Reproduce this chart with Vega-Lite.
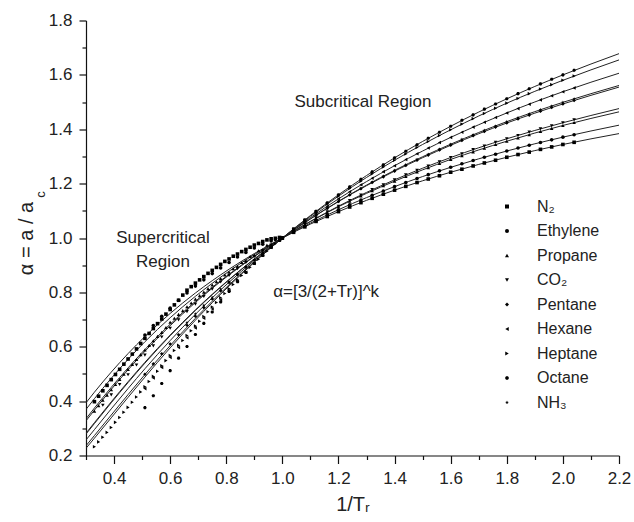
{
"$schema": "https://vega.github.io/schema/vega-lite/v6.json",
"width": 533, "height": 435,
"autosize": {"type": "none"},
"padding": {"left": 86, "top": 20.5, "right": 15, "bottom": 66.5},
"config": {"view": {"stroke": null}, "font": "Liberation Sans"},
"datasets": {
"fits": [
{"c":"N2","x":0.3,"y":0.3937},{"c":"N2","x":0.33,"y":0.4329},{"c":"N2","x":0.39,"y":0.5067},{"c":"N2","x":0.45,"y":0.5749},{"c":"N2","x":0.51,"y":0.6376},{"c":"N2","x":0.6,"y":0.7225},{"c":"N2","x":0.69,"y":0.7977},{"c":"N2","x":0.81,"y":0.8852},{"c":"N2","x":0.9,"y":0.9428},{"c":"N2","x":1.0,"y":1.0},{"c":"N2","x":1.2,"y":1.097},{"c":"N2","x":1.4,"y":1.176},{"c":"N2","x":1.6,"y":1.242},{"c":"N2","x":1.8,"y":1.297},{"c":"N2","x":2.0,"y":1.344},{"c":"N2","x":2.2,"y":1.384},
{"c":"Eth","x":0.3,"y":0.3696},{"c":"Eth","x":0.33,"y":0.409},{"c":"Eth","x":0.39,"y":0.4839},{"c":"Eth","x":0.45,"y":0.5537},{"c":"Eth","x":0.51,"y":0.6184},{"c":"Eth","x":0.6,"y":0.7067},{"c":"Eth","x":0.69,"y":0.7855},{"c":"Eth","x":0.81,"y":0.8779},{"c":"Eth","x":0.9,"y":0.939},{"c":"Eth","x":1.0,"y":1.0},{"c":"Eth","x":1.2,"y":1.104},{"c":"Eth","x":1.4,"y":1.189},{"c":"Eth","x":1.6,"y":1.26},{"c":"Eth","x":1.8,"y":1.32},{"c":"Eth","x":2.0,"y":1.371},{"c":"Eth","x":2.2,"y":1.415},
{"c":"Pro","x":0.3,"y":0.3351},{"c":"Pro","x":0.33,"y":0.3745},{"c":"Pro","x":0.39,"y":0.4506},{"c":"Pro","x":0.45,"y":0.5224},{"c":"Pro","x":0.51,"y":0.5899},{"c":"Pro","x":0.6,"y":0.683},{"c":"Pro","x":0.69,"y":0.7671},{"c":"Pro","x":0.81,"y":0.8667},{"c":"Pro","x":0.9,"y":0.9332},{"c":"Pro","x":1.0,"y":1.0},{"c":"Pro","x":1.2,"y":1.115},{"c":"Pro","x":1.4,"y":1.209},{"c":"Pro","x":1.6,"y":1.289},{"c":"Pro","x":1.8,"y":1.356},{"c":"Pro","x":2.0,"y":1.414},{"c":"Pro","x":2.2,"y":1.464},
{"c":"CO2","x":0.3,"y":0.3275},{"c":"CO2","x":0.33,"y":0.3668},{"c":"CO2","x":0.39,"y":0.4431},{"c":"CO2","x":0.45,"y":0.5153},{"c":"CO2","x":0.51,"y":0.5834},{"c":"CO2","x":0.6,"y":0.6775},{"c":"CO2","x":0.69,"y":0.7628},{"c":"CO2","x":0.81,"y":0.8641},{"c":"CO2","x":0.9,"y":0.9318},{"c":"CO2","x":1.0,"y":1.0},{"c":"CO2","x":1.2,"y":1.117},{"c":"CO2","x":1.4,"y":1.214},{"c":"CO2","x":1.6,"y":1.296},{"c":"CO2","x":1.8,"y":1.365},{"c":"CO2","x":2.0,"y":1.424},{"c":"CO2","x":2.2,"y":1.476},
{"c":"Pen","x":0.3,"y":0.282},{"c":"Pen","x":0.33,"y":0.3207},{"c":"Pen","x":0.39,"y":0.3973},{"c":"Pen","x":0.45,"y":0.4715},{"c":"Pen","x":0.51,"y":0.5427},{"c":"Pen","x":0.6,"y":0.6431},{"c":"Pen","x":0.69,"y":0.7356},{"c":"Pen","x":0.81,"y":0.8474},{"c":"Pen","x":0.9,"y":0.9231},{"c":"Pen","x":1.0,"y":1.0},{"c":"Pen","x":1.2,"y":1.134},{"c":"Pen","x":1.4,"y":1.246},{"c":"Pen","x":1.6,"y":1.341},{"c":"Pen","x":1.8,"y":1.423},{"c":"Pen","x":2.0,"y":1.493},{"c":"Pen","x":2.2,"y":1.555},
{"c":"NH3","x":0.3,"y":0.2788},{"c":"NH3","x":0.33,"y":0.3174},{"c":"NH3","x":0.39,"y":0.394},{"c":"NH3","x":0.45,"y":0.4683},{"c":"NH3","x":0.51,"y":0.5397},{"c":"NH3","x":0.6,"y":0.6405},{"c":"NH3","x":0.69,"y":0.7335},{"c":"NH3","x":0.81,"y":0.8461},{"c":"NH3","x":0.9,"y":0.9224},{"c":"NH3","x":1.0,"y":1.0},{"c":"NH3","x":1.2,"y":1.135},{"c":"NH3","x":1.4,"y":1.249},{"c":"NH3","x":1.6,"y":1.345},{"c":"NH3","x":1.8,"y":1.428},{"c":"NH3","x":2.0,"y":1.499},{"c":"NH3","x":2.2,"y":1.561},
{"c":"Hex","x":0.3,"y":0.2572},{"c":"Hex","x":0.33,"y":0.2952},{"c":"Hex","x":0.39,"y":0.3715},{"c":"Hex","x":0.45,"y":0.4464},{"c":"Hex","x":0.51,"y":0.5191},{"c":"Hex","x":0.6,"y":0.6228},{"c":"Hex","x":0.69,"y":0.7194},{"c":"Hex","x":0.81,"y":0.8373},{"c":"Hex","x":0.9,"y":0.9177},{"c":"Hex","x":1.0,"y":1.0},{"c":"Hex","x":1.2,"y":1.144},{"c":"Hex","x":1.4,"y":1.266},{"c":"Hex","x":1.6,"y":1.37},{"c":"Hex","x":1.8,"y":1.46},{"c":"Hex","x":2.0,"y":1.538},{"c":"Hex","x":2.2,"y":1.606},
{"c":"Hep","x":0.3,"y":0.2359},{"c":"Hep","x":0.33,"y":0.2733},{"c":"Hep","x":0.39,"y":0.3488},{"c":"Hep","x":0.45,"y":0.4241},{"c":"Hep","x":0.51,"y":0.4979},{"c":"Hep","x":0.6,"y":0.6043},{"c":"Hep","x":0.69,"y":0.7045},{"c":"Hep","x":0.81,"y":0.8278},{"c":"Hep","x":0.9,"y":0.9128},{"c":"Hep","x":1.0,"y":1.0},{"c":"Hep","x":1.2,"y":1.154},{"c":"Hep","x":1.4,"y":1.286},{"c":"Hep","x":1.6,"y":1.398},{"c":"Hep","x":1.8,"y":1.496},{"c":"Hep","x":2.0,"y":1.58},{"c":"Hep","x":2.2,"y":1.655},
{"c":"Oct","x":0.3,"y":0.2266},{"c":"Oct","x":0.33,"y":0.2636},{"c":"Oct","x":0.39,"y":0.3387},{"c":"Oct","x":0.45,"y":0.4141},{"c":"Oct","x":0.51,"y":0.4883},{"c":"Oct","x":0.6,"y":0.5959},{"c":"Oct","x":0.69,"y":0.6977},{"c":"Oct","x":0.81,"y":0.8235},{"c":"Oct","x":0.9,"y":0.9105},{"c":"Oct","x":1.0,"y":1.0},{"c":"Oct","x":1.2,"y":1.159},{"c":"Oct","x":1.4,"y":1.295},{"c":"Oct","x":1.6,"y":1.411},{"c":"Oct","x":1.8,"y":1.512},{"c":"Oct","x":2.0,"y":1.6},{"c":"Oct","x":2.2,"y":1.678}
],
"pts": [
{"s":"N₂","x":0.33,"y":0.398},{"s":"N₂","x":0.36,"y":0.438},{"s":"N₂","x":0.39,"y":0.479},{"s":"N₂","x":0.42,"y":0.517},{"s":"N₂","x":0.45,"y":0.555},{"s":"N₂","x":0.48,"y":0.592},{"s":"N₂","x":0.51,"y":0.631},{"s":"N₂","x":0.54,"y":0.667},{"s":"N₂","x":0.57,"y":0.702},{"s":"N₂","x":0.6,"y":0.737},{"s":"N₂","x":0.63,"y":0.771},{"s":"N₂","x":0.66,"y":0.808},{"s":"N₂","x":0.69,"y":0.834},{"s":"N₂","x":0.72,"y":0.858},{"s":"N₂","x":0.75,"y":0.881},{"s":"N₂","x":0.78,"y":0.903},{"s":"N₂","x":0.81,"y":0.923},{"s":"N₂","x":0.84,"y":0.941},{"s":"N₂","x":0.87,"y":0.958},{"s":"N₂","x":0.9,"y":0.974},{"s":"N₂","x":0.93,"y":0.987},{"s":"N₂","x":0.96,"y":0.997},{"s":"N₂","x":0.99,"y":1.002},{"s":"N₂","x":1.0,"y":1.0},
{"s":"N₂","x":0.345,"y":0.418},{"s":"N₂","x":0.375,"y":0.458},{"s":"N₂","x":0.405,"y":0.498},{"s":"N₂","x":0.435,"y":0.536},{"s":"N₂","x":0.465,"y":0.573},{"s":"N₂","x":0.495,"y":0.612},{"s":"N₂","x":0.525,"y":0.649},{"s":"N₂","x":0.555,"y":0.685},{"s":"N₂","x":0.585,"y":0.72},{"s":"N₂","x":0.615,"y":0.754},{"s":"N₂","x":0.645,"y":0.79},{"s":"N₂","x":0.675,"y":0.821},{"s":"N₂","x":0.705,"y":0.846},{"s":"N₂","x":0.735,"y":0.87},{"s":"N₂","x":0.765,"y":0.892},{"s":"N₂","x":0.795,"y":0.914},{"s":"N₂","x":0.825,"y":0.933},{"s":"N₂","x":0.855,"y":0.95},{"s":"N₂","x":0.885,"y":0.966},{"s":"N₂","x":0.915,"y":0.98},{"s":"N₂","x":0.945,"y":0.993},{"s":"N₂","x":0.975,"y":0.999},
{"s":"N₂","x":1.04,"y":1.021},{"s":"N₂","x":1.08,"y":1.041},{"s":"N₂","x":1.12,"y":1.061},{"s":"N₂","x":1.16,"y":1.079},{"s":"N₂","x":1.2,"y":1.097},{"s":"N₂","x":1.24,"y":1.114},{"s":"N₂","x":1.28,"y":1.13},{"s":"N₂","x":1.32,"y":1.146},{"s":"N₂","x":1.36,"y":1.161},{"s":"N₂","x":1.4,"y":1.176},{"s":"N₂","x":1.44,"y":1.19},{"s":"N₂","x":1.48,"y":1.204},{"s":"N₂","x":1.52,"y":1.217},{"s":"N₂","x":1.56,"y":1.229},{"s":"N₂","x":1.6,"y":1.242},{"s":"N₂","x":1.64,"y":1.253},{"s":"N₂","x":1.68,"y":1.265},{"s":"N₂","x":1.72,"y":1.276},{"s":"N₂","x":1.76,"y":1.286},{"s":"N₂","x":1.8,"y":1.297},{"s":"N₂","x":1.84,"y":1.307},{"s":"N₂","x":1.88,"y":1.316},{"s":"N₂","x":1.92,"y":1.326},{"s":"N₂","x":1.96,"y":1.335},{"s":"N₂","x":2.0,"y":1.344},{"s":"N₂","x":2.04,"y":1.352},
{"s":"Ethylene","x":0.51,"y":0.643},{"s":"Ethylene","x":0.54,"y":0.678},{"s":"Ethylene","x":0.57,"y":0.712},{"s":"Ethylene","x":0.6,"y":0.742},{"s":"Ethylene","x":0.63,"y":0.771},{"s":"Ethylene","x":0.66,"y":0.798},{"s":"Ethylene","x":0.69,"y":0.823},{"s":"Ethylene","x":0.72,"y":0.846},{"s":"Ethylene","x":0.75,"y":0.869},{"s":"Ethylene","x":0.78,"y":0.89},{"s":"Ethylene","x":0.81,"y":0.91},{"s":"Ethylene","x":0.84,"y":0.93},{"s":"Ethylene","x":0.87,"y":0.947},{"s":"Ethylene","x":0.9,"y":0.963},{"s":"Ethylene","x":0.93,"y":0.977},{"s":"Ethylene","x":0.96,"y":0.989},{"s":"Ethylene","x":0.99,"y":0.998},{"s":"Ethylene","x":1.0,"y":1.0},
{"s":"Ethylene","x":1.04,"y":1.023},{"s":"Ethylene","x":1.08,"y":1.044},{"s":"Ethylene","x":1.12,"y":1.065},{"s":"Ethylene","x":1.16,"y":1.085},{"s":"Ethylene","x":1.2,"y":1.104},{"s":"Ethylene","x":1.24,"y":1.122},{"s":"Ethylene","x":1.28,"y":1.14},{"s":"Ethylene","x":1.32,"y":1.157},{"s":"Ethylene","x":1.36,"y":1.173},{"s":"Ethylene","x":1.4,"y":1.189},{"s":"Ethylene","x":1.44,"y":1.204},{"s":"Ethylene","x":1.48,"y":1.219},{"s":"Ethylene","x":1.52,"y":1.233},{"s":"Ethylene","x":1.56,"y":1.247},{"s":"Ethylene","x":1.6,"y":1.26},{"s":"Ethylene","x":1.64,"y":1.273},{"s":"Ethylene","x":1.68,"y":1.285},{"s":"Ethylene","x":1.72,"y":1.297},{"s":"Ethylene","x":1.76,"y":1.308},{"s":"Ethylene","x":1.8,"y":1.32},{"s":"Ethylene","x":1.84,"y":1.331},{"s":"Ethylene","x":1.88,"y":1.341},{"s":"Ethylene","x":1.92,"y":1.351},{"s":"Ethylene","x":1.96,"y":1.361},{"s":"Ethylene","x":2.0,"y":1.371},{"s":"Ethylene","x":2.04,"y":1.38},
{"s":"Propane","x":0.33,"y":0.363},{"s":"Propane","x":0.36,"y":0.403},{"s":"Propane","x":0.39,"y":0.442},{"s":"Propane","x":0.42,"y":0.48},{"s":"Propane","x":0.45,"y":0.517},{"s":"Propane","x":0.48,"y":0.553},{"s":"Propane","x":0.51,"y":0.588},{"s":"Propane","x":0.54,"y":0.622},{"s":"Propane","x":0.57,"y":0.653},{"s":"Propane","x":0.6,"y":0.69},{"s":"Propane","x":0.63,"y":0.719},{"s":"Propane","x":0.66,"y":0.747},{"s":"Propane","x":0.69,"y":0.775},{"s":"Propane","x":0.72,"y":0.801},{"s":"Propane","x":0.75,"y":0.827},{"s":"Propane","x":0.78,"y":0.851},{"s":"Propane","x":0.81,"y":0.874},{"s":"Propane","x":0.84,"y":0.896},{"s":"Propane","x":0.87,"y":0.917},{"s":"Propane","x":0.9,"y":0.937},{"s":"Propane","x":0.93,"y":0.957},{"s":"Propane","x":0.96,"y":0.976},{"s":"Propane","x":0.99,"y":0.995},{"s":"Propane","x":1.0,"y":1.0},
{"s":"Propane","x":0.345,"y":0.383},{"s":"Propane","x":0.375,"y":0.422},{"s":"Propane","x":0.405,"y":0.461},{"s":"Propane","x":0.435,"y":0.499},{"s":"Propane","x":0.465,"y":0.535},{"s":"Propane","x":0.495,"y":0.571},{"s":"Propane","x":0.525,"y":0.605},{"s":"Propane","x":0.555,"y":0.638},{"s":"Propane","x":0.585,"y":0.671},{"s":"Propane","x":0.615,"y":0.705},{"s":"Propane","x":0.645,"y":0.733},{"s":"Propane","x":0.675,"y":0.761},{"s":"Propane","x":0.705,"y":0.788},{"s":"Propane","x":0.735,"y":0.814},{"s":"Propane","x":0.765,"y":0.839},{"s":"Propane","x":0.795,"y":0.864},{"s":"Propane","x":0.825,"y":0.887},{"s":"Propane","x":0.855,"y":0.91},{"s":"Propane","x":0.885,"y":0.932},{"s":"Propane","x":0.915,"y":0.953},{"s":"Propane","x":0.945,"y":0.974},{"s":"Propane","x":0.975,"y":0.994},
{"s":"Propane","x":1.04,"y":1.025},{"s":"Propane","x":1.08,"y":1.049},{"s":"Propane","x":1.12,"y":1.072},{"s":"Propane","x":1.16,"y":1.094},{"s":"Propane","x":1.2,"y":1.115},{"s":"Propane","x":1.24,"y":1.135},{"s":"Propane","x":1.28,"y":1.155},{"s":"Propane","x":1.32,"y":1.174},{"s":"Propane","x":1.36,"y":1.192},{"s":"Propane","x":1.4,"y":1.209},{"s":"Propane","x":1.44,"y":1.226},{"s":"Propane","x":1.48,"y":1.243},{"s":"Propane","x":1.52,"y":1.259},{"s":"Propane","x":1.56,"y":1.274},{"s":"Propane","x":1.6,"y":1.289},{"s":"Propane","x":1.64,"y":1.303},{"s":"Propane","x":1.68,"y":1.317},{"s":"Propane","x":1.72,"y":1.33},{"s":"Propane","x":1.76,"y":1.344},{"s":"Propane","x":1.8,"y":1.356},{"s":"Propane","x":1.84,"y":1.368},{"s":"Propane","x":1.88,"y":1.38},{"s":"Propane","x":1.92,"y":1.392},{"s":"Propane","x":1.96,"y":1.403},{"s":"Propane","x":2.0,"y":1.414},{"s":"Propane","x":2.04,"y":1.425},
{"s":"CO₂","x":0.36,"y":0.385},{"s":"CO₂","x":0.39,"y":0.423},{"s":"CO₂","x":0.42,"y":0.461},{"s":"CO₂","x":0.45,"y":0.497},{"s":"CO₂","x":0.48,"y":0.533},{"s":"CO₂","x":0.51,"y":0.569},{"s":"CO₂","x":0.54,"y":0.603},{"s":"CO₂","x":0.57,"y":0.636},{"s":"CO₂","x":0.6,"y":0.668},{"s":"CO₂","x":0.63,"y":0.699},{"s":"CO₂","x":0.66,"y":0.729},{"s":"CO₂","x":0.69,"y":0.757},{"s":"CO₂","x":0.72,"y":0.785},{"s":"CO₂","x":0.75,"y":0.812},{"s":"CO₂","x":0.78,"y":0.838},{"s":"CO₂","x":0.81,"y":0.862},{"s":"CO₂","x":0.84,"y":0.887},{"s":"CO₂","x":0.87,"y":0.91},{"s":"CO₂","x":0.9,"y":0.932},{"s":"CO₂","x":0.93,"y":0.953},{"s":"CO₂","x":0.96,"y":0.974},{"s":"CO₂","x":0.99,"y":0.994},{"s":"CO₂","x":1.0,"y":1.0},
{"s":"CO₂","x":1.04,"y":1.025},{"s":"CO₂","x":1.08,"y":1.05},{"s":"CO₂","x":1.12,"y":1.073},{"s":"CO₂","x":1.16,"y":1.096},{"s":"CO₂","x":1.2,"y":1.117},{"s":"CO₂","x":1.24,"y":1.138},{"s":"CO₂","x":1.28,"y":1.158},{"s":"CO₂","x":1.32,"y":1.178},{"s":"CO₂","x":1.36,"y":1.196},{"s":"CO₂","x":1.4,"y":1.214},{"s":"CO₂","x":1.44,"y":1.232},{"s":"CO₂","x":1.48,"y":1.249},{"s":"CO₂","x":1.52,"y":1.265},{"s":"CO₂","x":1.56,"y":1.28},{"s":"CO₂","x":1.6,"y":1.296},{"s":"CO₂","x":1.64,"y":1.31},{"s":"CO₂","x":1.68,"y":1.325},{"s":"CO₂","x":1.72,"y":1.338},{"s":"CO₂","x":1.76,"y":1.352},{"s":"CO₂","x":1.8,"y":1.365},{"s":"CO₂","x":1.84,"y":1.377},{"s":"CO₂","x":1.88,"y":1.39},{"s":"CO₂","x":1.92,"y":1.402},{"s":"CO₂","x":1.96,"y":1.413},{"s":"CO₂","x":2.0,"y":1.424},{"s":"CO₂","x":2.04,"y":1.435},
{"s":"Pentane","x":0.51,"y":0.499},{"s":"Pentane","x":0.54,"y":0.537},{"s":"Pentane","x":0.57,"y":0.574},{"s":"Pentane","x":0.6,"y":0.61},{"s":"Pentane","x":0.63,"y":0.644},{"s":"Pentane","x":0.66,"y":0.679},{"s":"Pentane","x":0.69,"y":0.712},{"s":"Pentane","x":0.72,"y":0.744},{"s":"Pentane","x":0.75,"y":0.776},{"s":"Pentane","x":0.78,"y":0.806},{"s":"Pentane","x":0.81,"y":0.836},{"s":"Pentane","x":0.84,"y":0.865},{"s":"Pentane","x":0.87,"y":0.892},{"s":"Pentane","x":0.9,"y":0.919},{"s":"Pentane","x":0.93,"y":0.945},{"s":"Pentane","x":0.96,"y":0.97},{"s":"Pentane","x":0.99,"y":0.993},{"s":"Pentane","x":1.0,"y":1.0},
{"s":"Pentane","x":1.04,"y":1.029},{"s":"Pentane","x":1.08,"y":1.057},{"s":"Pentane","x":1.12,"y":1.083},{"s":"Pentane","x":1.16,"y":1.109},{"s":"Pentane","x":1.2,"y":1.134},{"s":"Pentane","x":1.24,"y":1.158},{"s":"Pentane","x":1.28,"y":1.181},{"s":"Pentane","x":1.32,"y":1.204},{"s":"Pentane","x":1.36,"y":1.225},{"s":"Pentane","x":1.4,"y":1.246},{"s":"Pentane","x":1.44,"y":1.267},{"s":"Pentane","x":1.48,"y":1.286},{"s":"Pentane","x":1.52,"y":1.305},{"s":"Pentane","x":1.56,"y":1.324},{"s":"Pentane","x":1.6,"y":1.341},{"s":"Pentane","x":1.64,"y":1.359},{"s":"Pentane","x":1.68,"y":1.376},{"s":"Pentane","x":1.72,"y":1.392},{"s":"Pentane","x":1.76,"y":1.408},{"s":"Pentane","x":1.8,"y":1.423},{"s":"Pentane","x":1.84,"y":1.438},{"s":"Pentane","x":1.88,"y":1.452},{"s":"Pentane","x":1.92,"y":1.466},{"s":"Pentane","x":1.96,"y":1.48},{"s":"Pentane","x":2.0,"y":1.493},{"s":"Pentane","x":2.04,"y":1.506},
{"s":"Hexane","x":0.51,"y":0.446},{"s":"Hexane","x":0.54,"y":0.485},{"s":"Hexane","x":0.57,"y":0.524},{"s":"Hexane","x":0.6,"y":0.561},{"s":"Hexane","x":0.63,"y":0.597},{"s":"Hexane","x":0.66,"y":0.633},{"s":"Hexane","x":0.69,"y":0.669},{"s":"Hexane","x":0.72,"y":0.705},{"s":"Hexane","x":0.75,"y":0.739},{"s":"Hexane","x":0.78,"y":0.773},{"s":"Hexane","x":0.81,"y":0.807},{"s":"Hexane","x":0.84,"y":0.84},{"s":"Hexane","x":0.87,"y":0.874},{"s":"Hexane","x":0.9,"y":0.906},{"s":"Hexane","x":0.93,"y":0.937},{"s":"Hexane","x":0.96,"y":0.965},{"s":"Hexane","x":0.99,"y":0.992},{"s":"Hexane","x":1.0,"y":1.0},
{"s":"Hexane","x":1.04,"y":1.031},{"s":"Hexane","x":1.08,"y":1.061},{"s":"Hexane","x":1.12,"y":1.09},{"s":"Hexane","x":1.16,"y":1.117},{"s":"Hexane","x":1.2,"y":1.144},{"s":"Hexane","x":1.24,"y":1.17},{"s":"Hexane","x":1.28,"y":1.196},{"s":"Hexane","x":1.32,"y":1.22},{"s":"Hexane","x":1.36,"y":1.244},{"s":"Hexane","x":1.4,"y":1.266},{"s":"Hexane","x":1.44,"y":1.289},{"s":"Hexane","x":1.48,"y":1.31},{"s":"Hexane","x":1.52,"y":1.331},{"s":"Hexane","x":1.56,"y":1.351},{"s":"Hexane","x":1.6,"y":1.37},{"s":"Hexane","x":1.64,"y":1.389},{"s":"Hexane","x":1.68,"y":1.408},{"s":"Hexane","x":1.72,"y":1.426},{"s":"Hexane","x":1.76,"y":1.443},{"s":"Hexane","x":1.8,"y":1.46},{"s":"Hexane","x":1.84,"y":1.476},{"s":"Hexane","x":1.88,"y":1.492},{"s":"Hexane","x":1.92,"y":1.508},{"s":"Hexane","x":1.96,"y":1.523},{"s":"Hexane","x":2.0,"y":1.538},{"s":"Hexane","x":2.04,"y":1.552},
{"s":"Heptane","x":0.33,"y":0.232},{"s":"Heptane","x":0.36,"y":0.267},{"s":"Heptane","x":0.39,"y":0.303},{"s":"Heptane","x":0.42,"y":0.34},{"s":"Heptane","x":0.45,"y":0.377},{"s":"Heptane","x":0.48,"y":0.415},{"s":"Heptane","x":0.51,"y":0.453},{"s":"Heptane","x":0.54,"y":0.491},{"s":"Heptane","x":0.57,"y":0.53},{"s":"Heptane","x":0.6,"y":0.568},{"s":"Heptane","x":0.63,"y":0.605},{"s":"Heptane","x":0.66,"y":0.641},{"s":"Heptane","x":0.69,"y":0.676},{"s":"Heptane","x":0.72,"y":0.711},{"s":"Heptane","x":0.75,"y":0.746},{"s":"Heptane","x":0.78,"y":0.78},{"s":"Heptane","x":0.81,"y":0.813},{"s":"Heptane","x":0.84,"y":0.846},{"s":"Heptane","x":0.87,"y":0.877},{"s":"Heptane","x":0.9,"y":0.907},{"s":"Heptane","x":0.93,"y":0.937},{"s":"Heptane","x":0.96,"y":0.966},{"s":"Heptane","x":0.99,"y":0.992},{"s":"Heptane","x":1.0,"y":1.0},
{"s":"Heptane","x":0.345,"y":0.25},{"s":"Heptane","x":0.375,"y":0.285},{"s":"Heptane","x":0.405,"y":0.322},{"s":"Heptane","x":0.435,"y":0.359},{"s":"Heptane","x":0.465,"y":0.396},{"s":"Heptane","x":0.495,"y":0.434},{"s":"Heptane","x":0.525,"y":0.472},{"s":"Heptane","x":0.555,"y":0.51},{"s":"Heptane","x":0.585,"y":0.549},{"s":"Heptane","x":0.615,"y":0.586},{"s":"Heptane","x":0.645,"y":0.623},{"s":"Heptane","x":0.675,"y":0.659},{"s":"Heptane","x":0.705,"y":0.694},{"s":"Heptane","x":0.735,"y":0.729},{"s":"Heptane","x":0.765,"y":0.763},{"s":"Heptane","x":0.795,"y":0.796},{"s":"Heptane","x":0.825,"y":0.829},{"s":"Heptane","x":0.855,"y":0.862},{"s":"Heptane","x":0.885,"y":0.892},{"s":"Heptane","x":0.915,"y":0.922},{"s":"Heptane","x":0.945,"y":0.951},{"s":"Heptane","x":0.975,"y":0.979},
{"s":"Heptane","x":1.04,"y":1.033},{"s":"Heptane","x":1.08,"y":1.065},{"s":"Heptane","x":1.12,"y":1.096},{"s":"Heptane","x":1.16,"y":1.125},{"s":"Heptane","x":1.2,"y":1.154},{"s":"Heptane","x":1.24,"y":1.182},{"s":"Heptane","x":1.28,"y":1.209},{"s":"Heptane","x":1.32,"y":1.236},{"s":"Heptane","x":1.36,"y":1.261},{"s":"Heptane","x":1.4,"y":1.286},{"s":"Heptane","x":1.44,"y":1.309},{"s":"Heptane","x":1.48,"y":1.333},{"s":"Heptane","x":1.52,"y":1.355},{"s":"Heptane","x":1.56,"y":1.377},{"s":"Heptane","x":1.6,"y":1.398},{"s":"Heptane","x":1.64,"y":1.419},{"s":"Heptane","x":1.68,"y":1.439},{"s":"Heptane","x":1.72,"y":1.458},{"s":"Heptane","x":1.76,"y":1.477},{"s":"Heptane","x":1.8,"y":1.496},{"s":"Heptane","x":1.84,"y":1.513},{"s":"Heptane","x":1.88,"y":1.531},{"s":"Heptane","x":1.92,"y":1.548},{"s":"Heptane","x":1.96,"y":1.564},{"s":"Heptane","x":2.0,"y":1.58},{"s":"Heptane","x":2.04,"y":1.596},
{"s":"Octane","x":0.51,"y":0.376},{"s":"Octane","x":0.54,"y":0.42},{"s":"Octane","x":0.57,"y":0.465},{"s":"Octane","x":0.6,"y":0.512},{"s":"Octane","x":0.63,"y":0.558},{"s":"Octane","x":0.66,"y":0.601},{"s":"Octane","x":0.69,"y":0.645},{"s":"Octane","x":0.72,"y":0.686},{"s":"Octane","x":0.75,"y":0.728},{"s":"Octane","x":0.78,"y":0.765},{"s":"Octane","x":0.81,"y":0.803},{"s":"Octane","x":0.84,"y":0.839},{"s":"Octane","x":0.87,"y":0.873},{"s":"Octane","x":0.9,"y":0.906},{"s":"Octane","x":0.93,"y":0.936},{"s":"Octane","x":0.96,"y":0.965},{"s":"Octane","x":0.99,"y":0.991},{"s":"Octane","x":1.0,"y":1.0},
{"s":"Octane","x":1.04,"y":1.034},{"s":"Octane","x":1.08,"y":1.067},{"s":"Octane","x":1.12,"y":1.098},{"s":"Octane","x":1.16,"y":1.129},{"s":"Octane","x":1.2,"y":1.159},{"s":"Octane","x":1.24,"y":1.188},{"s":"Octane","x":1.28,"y":1.216},{"s":"Octane","x":1.32,"y":1.243},{"s":"Octane","x":1.36,"y":1.269},{"s":"Octane","x":1.4,"y":1.295},{"s":"Octane","x":1.44,"y":1.319},{"s":"Octane","x":1.48,"y":1.343},{"s":"Octane","x":1.52,"y":1.367},{"s":"Octane","x":1.56,"y":1.389},{"s":"Octane","x":1.6,"y":1.411},{"s":"Octane","x":1.64,"y":1.433},{"s":"Octane","x":1.68,"y":1.453},{"s":"Octane","x":1.72,"y":1.474},{"s":"Octane","x":1.76,"y":1.493},{"s":"Octane","x":1.8,"y":1.512},{"s":"Octane","x":1.84,"y":1.531},{"s":"Octane","x":1.88,"y":1.549},{"s":"Octane","x":1.92,"y":1.567},{"s":"Octane","x":1.96,"y":1.584},{"s":"Octane","x":2.0,"y":1.6},{"s":"Octane","x":2.04,"y":1.617},
{"s":"NH₃","x":0.66,"y":0.689},{"s":"NH₃","x":0.69,"y":0.721},{"s":"NH₃","x":0.72,"y":0.752},{"s":"NH₃","x":0.75,"y":0.782},{"s":"NH₃","x":0.78,"y":0.812},{"s":"NH₃","x":0.81,"y":0.84},{"s":"NH₃","x":0.84,"y":0.868},{"s":"NH₃","x":0.87,"y":0.895},{"s":"NH₃","x":0.9,"y":0.921},{"s":"NH₃","x":0.93,"y":0.945},{"s":"NH₃","x":0.96,"y":0.97},{"s":"NH₃","x":0.99,"y":0.993},{"s":"NH₃","x":1.0,"y":1.0},
{"s":"NH₃","x":1.04,"y":1.029},{"s":"NH₃","x":1.08,"y":1.057},{"s":"NH₃","x":1.12,"y":1.084},{"s":"NH₃","x":1.16,"y":1.11},{"s":"NH₃","x":1.2,"y":1.135},{"s":"NH₃","x":1.24,"y":1.16},{"s":"NH₃","x":1.28,"y":1.183},{"s":"NH₃","x":1.32,"y":1.206},{"s":"NH₃","x":1.36,"y":1.228},{"s":"NH₃","x":1.4,"y":1.249},{"s":"NH₃","x":1.44,"y":1.269},{"s":"NH₃","x":1.48,"y":1.289},{"s":"NH₃","x":1.52,"y":1.308},{"s":"NH₃","x":1.56,"y":1.327},{"s":"NH₃","x":1.6,"y":1.345},{"s":"NH₃","x":1.64,"y":1.363},{"s":"NH₃","x":1.68,"y":1.38},{"s":"NH₃","x":1.72,"y":1.396},{"s":"NH₃","x":1.76,"y":1.412},{"s":"NH₃","x":1.8,"y":1.428},{"s":"NH₃","x":1.84,"y":1.443},{"s":"NH₃","x":1.88,"y":1.457},{"s":"NH₃","x":1.92,"y":1.472},{"s":"NH₃","x":1.96,"y":1.485},{"s":"NH₃","x":2.0,"y":1.499},{"s":"NH₃","x":2.04,"y":1.512}
],
"notes": [
{"t":"Subcritical Region","x":1.2875,"y":1.5,"f":17,"a":0},
{"t":"Supercritical","x":0.5745,"y":1.0,"f":17,"a":0},
{"t":"Region","x":0.5745,"y":0.912,"f":17,"a":0},
{"t":"α=[3/(2+Tr)]^k","x":1.156,"y":0.8,"f":17,"a":0},
{"t":"c","x":0.14,"y":1.16,"f":13,"a":270}
]
},
"encoding": {
"x": {"field": "x", "type": "quantitative", "scale": {"domain": [0.3, 2.2], "nice": false, "zero": false},
"axis": {"values": [0.3,0.4,0.5,0.6,0.7,0.8,0.9,1.0,1.1,1.2,1.3,1.4,1.5,1.6,1.7,1.8,1.9,2.0,2.1,2.2],
"labelExpr": "round(datum.value*10)%2==0 ? format(datum.value,'.1f') : ''",
"tickSize": {"condition": {"test": "round(datum.value*10)%2==0", "value": 8}, "value": 4},
"grid": false, "domainColor": "#111", "tickColor": "#111", "domainWidth": 1.2, "tickWidth": 1.2,
"labelFontSize": 17, "labelColor": "#222", "labelPadding": 7, "labelOverlap": false, "labelFlush": false, "labelBound": false,
"title": "1/Tᵣ", "titleFontSize": 20, "titleFontWeight": "normal", "titleColor": "#222", "titlePadding": 8}},
"y": {"field": "y", "type": "quantitative", "scale": {"domain": [0.2, 1.8], "nice": false, "zero": false},
"axis": {"values": [0.2,0.3,0.4,0.5,0.6,0.7,0.8,0.9,1.0,1.1,1.2,1.3,1.4,1.5,1.6,1.7,1.8],
"labelExpr": "round(datum.value*10)%2==0 ? format(datum.value,'.1f') : ''",
"tickSize": {"condition": {"test": "round(datum.value*10)%2==0", "value": 7}, "value": 4},
"grid": false, "domainColor": "#111", "tickColor": "#111", "domainWidth": 1.2, "tickWidth": 1.2,
"labelFontSize": 17, "labelColor": "#222", "labelPadding": 7, "labelOverlap": false, "labelFlush": false,
"title": "α = a / a", "titleFontSize": 20, "titleFontWeight": "normal", "titleColor": "#222", "titlePadding": 12}}
},
"layer": [
{
"data": {"name": "fits"},
"mark": {"type": "line", "color": "#222", "strokeWidth": 1, "interpolate": "monotone", "clip": true},
"encoding": {"detail": {"field": "c", "type": "nominal"}}
},
{
"data": {"name": "pts"},
"mark": {"type": "point", "filled": true, "color": "#000", "opacity": 1, "size": 13},
"encoding": {
"shape": {"field": "s", "type": "nominal",
"scale": {"domain": ["N₂","Ethylene","Propane","CO₂","Pentane","Hexane","Heptane","Octane","NH₃"],
"range": ["square","circle","triangle-up","triangle-down","diamond","triangle-left","triangle-right","M-1,0L-0.5,-0.866L0.5,-0.866L1,0L0.5,0.866L-0.5,0.866Z","M0,-1L0.235,-0.324L0.951,-0.309L0.38,0.124L0.588,0.809L0,0.4L-0.588,0.809L-0.38,0.124L-0.951,-0.309L-0.235,-0.324Z"]},
"legend": {"orient": "none", "legendX": 413, "legendY": 178, "title": null, "padding": 0,
"labelFont": "Liberation Sans", "labelFontSize": 16, "labelColor": "#222", "labelOffset": 22, "labelBaseline": "middle",
"symbolSize": 16, "symbolFillColor": "#000", "symbolStrokeColor": "#000", "symbolStrokeWidth": 0, "rowPadding": 8.5}}
}
},
{
"data": {"name": "notes"},
"mark": {"type": "text", "font": "Liberation Sans", "color": "#222", "align": "center", "baseline": "middle"},
"encoding": {
"text": {"field": "t", "type": "nominal"},
"size": {"field": "f", "type": "quantitative", "scale": null},
"angle": {"field": "a", "type": "quantitative", "scale": null}
}
}
]
}
